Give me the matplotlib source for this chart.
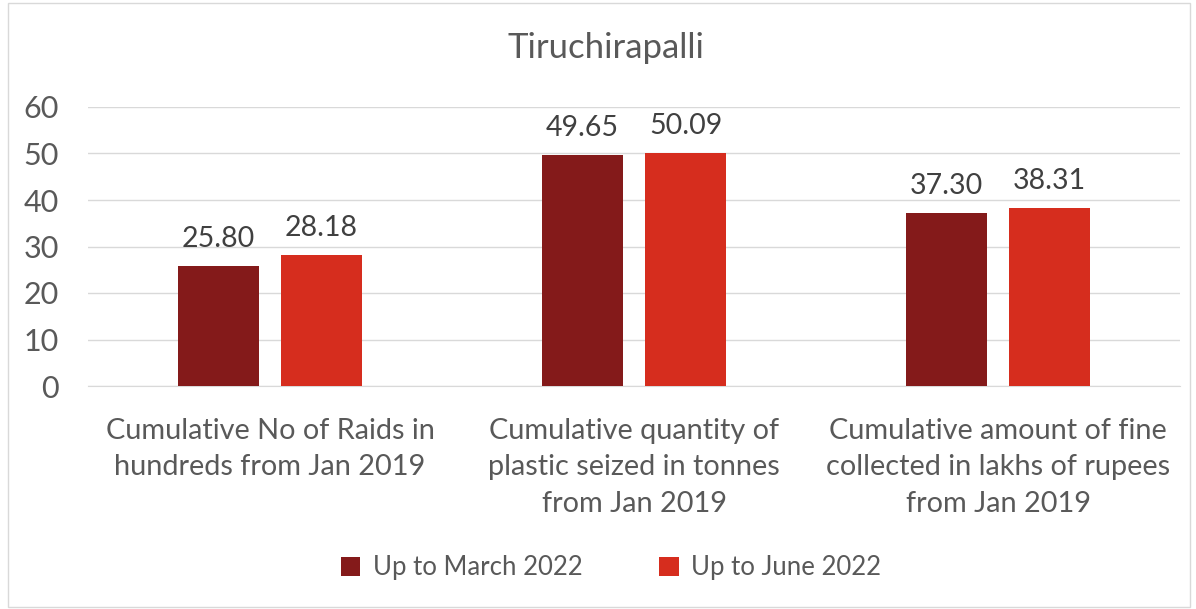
import numpy as np
import matplotlib.pyplot as plt
from matplotlib.patches import Rectangle

categories = ['Cumulative No of Raids in\nhundreds from Jan 2019',
              'Cumulative quantity of\nplastic seized in tonnes\nfrom Jan 2019',
              'Cumulative amount of fine\ncollected in lakhs of rupees\nfrom Jan 2019']
march_2022 = [25.80, 49.65, 37.30]
june_2022 = [28.18, 50.09, 38.31]
series_names = ['Up to March 2022', 'Up to June 2022']
colors = ['#841A1A', '#D62D1E']
text_color = '#595959'

plt.rcParams['font.family'] = ['Lato', 'DejaVu Sans']

fig = plt.figure(figsize=(11.96, 6.09), dpi=100)
ax = fig.add_axes([88 / 1196, 1 - 386 / 609, (1180 - 88) / 1196, (386 - 107) / 609])

x = np.arange(len(categories))
width = 0.223
off = 0.1415
b1 = ax.bar(x - off, march_2022, width, color=colors[0], label=series_names[0], zorder=3)
b2 = ax.bar(x + off, june_2022, width, color=colors[1], label=series_names[1], zorder=3)
for bars in (b1, b2):
    ax.bar_label(bars, labels=[f'{v:.2f}' for v in bars.datavalues], padding=10,
                 fontsize=20.5, color='#404040')

ax.set_xlim(-0.5, 2.5)
ax.set_ylim(0, 60)
ax.set_yticks(range(0, 61, 10))
ax.grid(axis='y', color='#D9D9D9', linewidth=1, zorder=0)
ax.set_xticks(x)
ax.set_xticklabels(categories, fontsize=20.8, color=text_color, linespacing=1.5)
ax.tick_params(axis='x', length=0, pad=23)
ax.tick_params(axis='y', length=0, pad=21, labelsize=22, labelcolor=text_color)
for s in ['left', 'right', 'top']:
    ax.spines[s].set_visible(False)
ax.spines['bottom'].set_color('#D9D9D9')

fig.text(0.507, 1 - 48 / 609, 'Tiruchirapalli', ha='center', va='center',
         fontsize=25, color=text_color)
fig.legend(loc='center', bbox_to_anchor=(611 / 1196, 1 - 568 / 609), ncol=2, frameon=False,
           fontsize=18.5, labelcolor=text_color, handlelength=0.75, handleheight=0.75,
           columnspacing=3.0, handletextpad=0.5)

fig.patches.append(Rectangle((8 / 1196, 2 / 609), 1182 / 1196, 604 / 609,
                             transform=fig.transFigure, fill=False,
                             edgecolor='#D9D9D9', linewidth=1))

fig.savefig('out.png', dpi=100)
